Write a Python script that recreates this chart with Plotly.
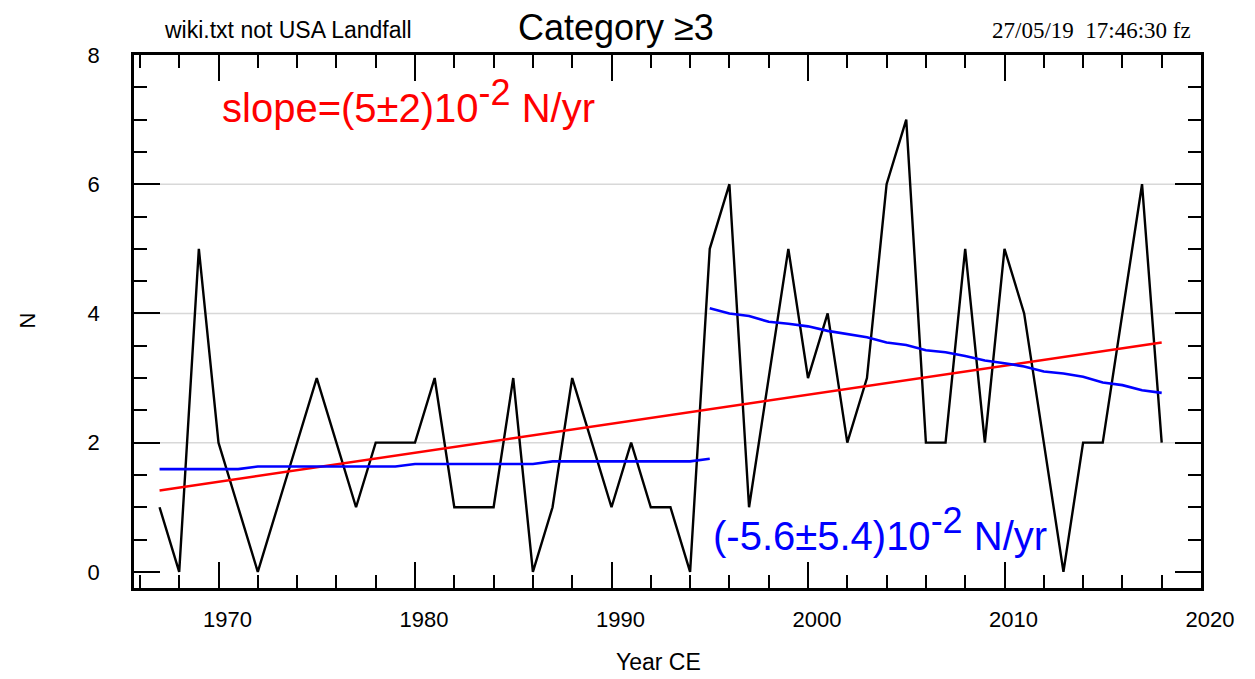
import plotly.graph_objects as go

# ---- data ----
years = list(range(1967, 2019))
counts = [1, 0, 5, 2, 1, 0, 1, 2, 3, 2,
          1, 2, 2, 2, 3, 1, 1, 1, 3, 0,
          1, 3, 2, 1, 2, 1, 1, 0, 5, 6,
          1, 3, 5, 3, 4, 2, 3, 6, 7, 2,
          2, 5, 2, 5, 4, 2, 0, 2, 2, 4,
          6, 2]

red_years = [1967, 2018]
red_vals = [1.26, 3.55]

blue1_years = [1967, 1971, 1972, 1979, 1980, 1986, 1987, 1994, 1995]
blue1_vals = [1.59, 1.59, 1.63, 1.63, 1.67, 1.67, 1.71, 1.71, 1.75]

blue2_years = list(range(1995, 2019))
blue2_vals = [4.08, 4.00, 3.96, 3.87, 3.84, 3.80, 3.73, 3.68, 3.63, 3.55,
              3.51, 3.43, 3.40, 3.34, 3.27, 3.23, 3.18, 3.10, 3.07, 3.02,
              2.93, 2.89, 2.81, 2.77]

grid_levels = [2, 4, 6]
x_range = [1965.7, 2020.0]
y_range = [-0.25, 8.0]

FONT = "Liberation Sans, Arial, sans-serif"
SUP = '<sup><span style="font-size:36px">-2</span></sup>'

fig = go.Figure()
fig.add_trace(go.Scatter(x=years, y=counts, mode="lines",
                         line=dict(color="black", width=2.4), showlegend=False))
fig.add_trace(go.Scatter(x=red_years, y=red_vals, mode="lines",
                         line=dict(color="#ff0000", width=2.4), showlegend=False))
fig.add_trace(go.Scatter(x=blue1_years, y=blue1_vals, mode="lines",
                         line=dict(color="#0000ff", width=2.6), showlegend=False))
fig.add_trace(go.Scatter(x=blue2_years, y=blue2_vals, mode="lines",
                         line=dict(color="#0000ff", width=2.6), showlegend=False))

for g in grid_levels:
    fig.add_shape(type="line", xref="paper", x0=0, x1=1, yref="y", y0=g, y1=g,
                  line=dict(color="#d8d8d8", width=1.5), layer="below")

axis_common = dict(showline=True, linecolor="black", linewidth=2.5, mirror="ticks",
                   ticks="inside", tickcolor="black", tickwidth=2, showgrid=False,
                   zeroline=False, tickfont=dict(family=FONT, size=22, color="black"))

fig.update_xaxes(range=x_range, tick0=1970, dtick=10, ticklen=26,
                 ticklabelshift=9, ticklabelstandoff=10,
                 minor=dict(dtick=2, tick0=1970, ticklen=13, ticks="inside",
                            tickcolor="black", tickwidth=2, showgrid=False),
                 **axis_common)
fig.update_yaxes(range=y_range, tick0=0, dtick=2, ticklen=26,
                 ticklabelstandoff=27,
                 minor=dict(dtick=0.5, tick0=0, ticklen=13, ticks="inside",
                            tickcolor="black", tickwidth=2, showgrid=False),
                 **axis_common)

ann = [
    dict(text="Category \u22653", x=0.5, xref="paper", xanchor="center",
         y=1, yref="paper", yanchor="middle", yshift=28, xshift=-52,
         font=dict(family=FONT, size=36, color="black")),
    dict(text="wiki.txt not USA Landfall", x=0, xref="paper", xanchor="left",
         y=1, yref="paper", yanchor="middle", yshift=25, xshift=28,
         font=dict(family=FONT, size=23, color="black")),
    dict(text="27/05/19  17:46:30 fz", x=1, xref="paper", xanchor="right",
         y=1, yref="paper", yanchor="middle", yshift=25, xshift=-8,
         font=dict(family="Liberation Serif, Times New Roman, serif", size=23, color="black")),
    dict(text="slope=(5\u00b12)10" + SUP + " N/yr", x=0, xref="paper", xanchor="left",
         y=1, yref="paper", yanchor="top", xshift=86, yshift=-15,
         font=dict(family=FONT, size=40, color="#ff0000")),
    dict(text="(-5.6\u00b15.4)10" + SUP + " N/yr", x=0, xref="paper", xanchor="left",
         y=0, yref="paper", yanchor="bottom", xshift=577, yshift=28,
         font=dict(family=FONT, size=40, color="#0000ff")),
    dict(text="Year CE", x=0.5, xref="paper", xanchor="center",
         y=0, yref="paper", yanchor="middle", yshift=-74, xshift=-9,
         font=dict(family=FONT, size=23, color="black")),
    dict(text="N", x=0, xref="paper", xanchor="center", textangle=-90,
         y=0.5, yref="paper", yanchor="middle", xshift=-107, yshift=1,
         font=dict(family=FONT, size=22, color="black")),
]
for a in ann:
    a["showarrow"] = False
fig.update_layout(annotations=ann)

fig.update_layout(width=1255, height=679,
                  margin=dict(l=126, r=62, t=47, b=99),
                  paper_bgcolor="white", plot_bgcolor="white",
                  showlegend=False)

fig.write_html("out.html")
